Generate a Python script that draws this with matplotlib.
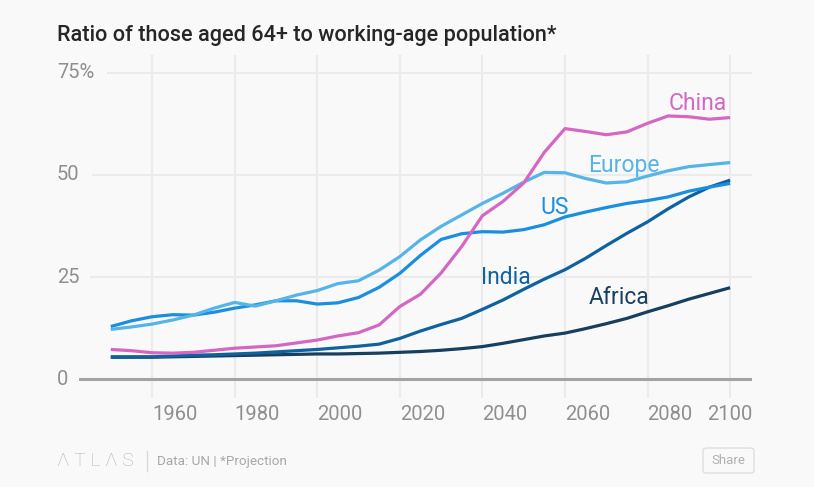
import numpy as np
import matplotlib
matplotlib.use('Agg')
import matplotlib.pyplot as plt
from matplotlib import transforms
from matplotlib.patches import FancyBboxPatch
from matplotlib.lines import Line2D

plt.rcParams['font.family'] = ['Roboto', 'DejaVu Sans']

years = list(range(1950, 2101, 5))

china = [7.3, 7.0, 6.5, 6.4, 6.6, 7.1, 7.6, 7.9, 8.2, 8.9, 9.6, 10.6, 11.4, 13.3, 17.8, 20.8,
         26.0, 32.5, 40.0, 43.5, 48.0, 55.5, 61.3, 60.6, 59.8, 60.5, 62.6, 64.4, 64.2, 63.6, 64.0]
europe = [12.2, 12.8, 13.5, 14.5, 15.7, 17.4, 18.8, 17.9, 19.2, 20.6, 21.7, 23.4, 24.1, 26.7, 30.0, 34.1,
          37.4, 40.2, 43.0, 45.5, 48.2, 50.6, 50.5, 49.1, 48.0, 48.3, 49.7, 51.0, 52.0, 52.5, 53.0]
us = [12.9, 14.3, 15.3, 15.8, 15.7, 16.4, 17.4, 18.2, 19.2, 19.2, 18.4, 18.7, 20.0, 22.5, 25.9, 30.3,
      34.2, 35.6, 36.1, 36.0, 36.6, 37.8, 39.7, 40.9, 42.0, 43.0, 43.7, 44.6, 46.0, 47.0, 47.9]
india = [5.5, 5.5, 5.5, 5.7, 5.9, 6.0, 6.2, 6.4, 6.7, 7.0, 7.3, 7.7, 8.1, 8.6, 10.0, 11.8,
         13.4, 14.9, 17.1, 19.4, 22.0, 24.5, 26.8, 29.6, 32.7, 35.7, 38.5, 41.7, 44.6, 47.0, 48.7]
africa = [5.4, 5.4, 5.4, 5.5, 5.6, 5.7, 5.8, 5.9, 6.0, 6.1, 6.2, 6.2, 6.3, 6.4, 6.6, 6.8,
          7.1, 7.5, 8.0, 8.8, 9.7, 10.6, 11.3, 12.4, 13.6, 14.9, 16.5, 18.0, 19.6, 21.0, 22.4]

series_names = ['Africa', 'India', 'US', 'Europe', 'China']
series_values = [africa, india, us, europe, china]
series_colors = ['#173f5f', '#0f62a0', '#1a8ee0', '#55b4e8', '#d467c4']
# label anchor (year, value) for each series name
label_pos = {'China': (2092.2, 67.4), 'Europe': (2074.3, 52.3), 'US': (2057.6, 41.9),
             'India': (2045.7, 25.0), 'Africa': (2073.1, 19.9)}

x_ticks = [1960, 1980, 2000, 2020, 2040, 2060, 2080, 2100]
y_ticks = [0, 25, 50, 75]
y_tick_labels = ['0', '25', '50', '75%']
grid_start = {25: 1945.0, 50: 1945.4, 75: 1949.1}

bg = '#f9f9f9'
fig = plt.figure(figsize=(8.14, 4.87), dpi=100, facecolor=bg)
ax = fig.add_axes([79 / 814, 1 - 398 / 487, (752 - 79) / 814, (398 - 55) / 487])
ax.set_facecolor(bg)
ax.set_xlim(1942.3, 2105.3)
ax.set_ylim(-4.57, 79.3)

for t in x_ticks:
    ax.axvline(t, color='#ebebeb', lw=1.5, zorder=0)
for v in y_ticks[1:]:
    ax.hlines(v, grid_start[v], 2105.3, color='#ebebeb', lw=1.5, zorder=0)
ax.axhline(0, color='#a3a3a3', lw=2.2, zorder=1)

for name, vals, col in zip(series_names, series_values, series_colors):
    ax.plot(years, vals, color=col, lw=2.3, solid_capstyle='butt', solid_joinstyle='round', zorder=3)
    lx, ly = label_pos[name]
    ax.text(lx, ly, name, color=col, fontsize=16.5, ha='center', va='center', zorder=4)

for s in ax.spines.values():
    s.set_visible(False)
ax.set_xticks(x_ticks)
ax.set_xticklabels([str(t) for t in x_ticks], fontsize=14.5, color='#8f8f8f')
ax.tick_params(axis='x', length=0, pad=5)
for i, lab in enumerate(ax.get_xticklabels()):
    lab.set_ha('center' if i == len(x_ticks) - 1 else 'left')
ax.set_yticks([])

trans = transforms.blended_transform_factory(fig.transFigure, ax.transData)
for v, lab in zip(y_ticks, y_tick_labels):
    ax.text(57 / 814, v, lab, transform=trans, fontsize=14.5, color='#8f8f8f', ha='left', va='center')

fig.text(57 / 814, 1 - 36 / 487, 'Ratio of those aged 64+ to working-age population*',
         fontsize=15.6, color='#262626', ha='left', va='center', fontweight='medium')

# footer
fig.text(57 / 814, 1 - 461 / 487, 'Λ T L Λ S', fontsize=14, color='#b3b3b3', ha='left', va='center',
         fontweight='light')
fig.add_artist(Line2D([147 / 814, 147 / 814], [1 - 451 / 487, 1 - 471 / 487], color='#d8d8d8', lw=1))
fig.text(157 / 814, 1 - 461 / 487, 'Data: UN | *Projection', fontsize=9.7, color='#a8a8a8',
         ha='left', va='center')
fig.add_artist(FancyBboxPatch((703 / 814, 1 - 473 / 487), 51 / 814, 25 / 487,
                              boxstyle='round,pad=0,rounding_size=0.005', transform=fig.transFigure,
                              facecolor='none', edgecolor='#dedede', lw=1))
fig.text(728.5 / 814, 1 - 461 / 487, 'Share', fontsize=9.5, color='#b0b0b0', ha='center', va='center')

fig.savefig('out.png', dpi=100, facecolor=bg)
